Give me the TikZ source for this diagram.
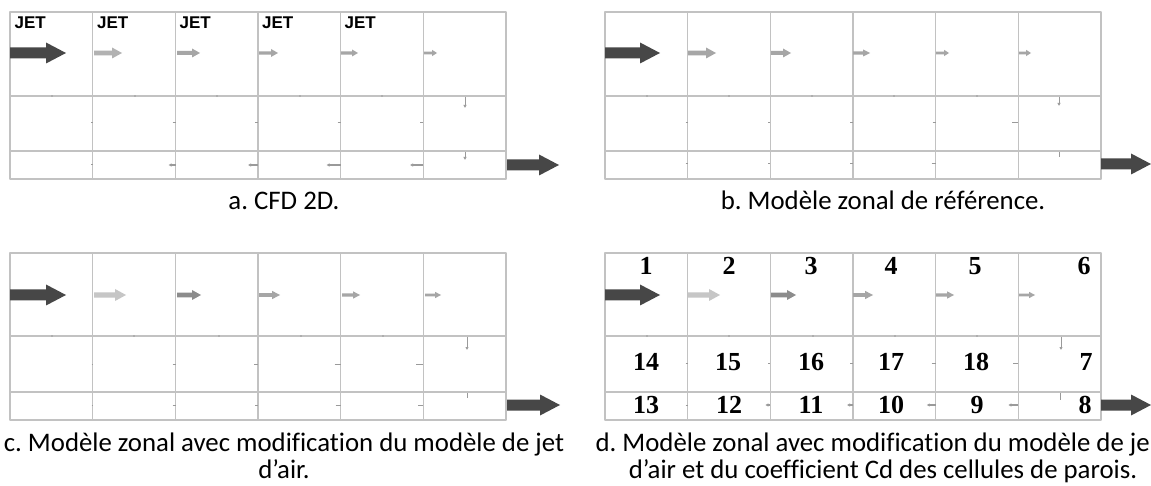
\documentclass[tikz,border=0pt]{standalone}
\usepackage{fontspec}
\setmainfont{Carlito}[Ligatures = NoCommon]
\newfontfamily\jetfont{Liberation Sans}
\newfontfamily\cellfont{Liberation Serif}
\usetikzlibrary{arrows.meta}
\frenchspacing

\definecolor{gridgray}{HTML}{C2C2C2}
\definecolor{tickgray}{HTML}{9A9A9A}
\definecolor{jetdark}{HTML}{474747}
\definecolor{flowpale}{HTML}{C6C6C6}
\definecolor{flowlight}{HTML}{B2B2B2}
\definecolor{flowmid}{HTML}{A6A6A6}
\definecolor{flowdark}{HTML}{8C8C8C}

% block arrow: colour, x start, x end, y, body half, head half, head length
\newcommand{\blockarrow}[7]{%
  \fill[#1] ({#2}, {#4 - #5}) -- ({#3 - #7}, {#4 - #5}) -- ({#3 - #7}, {#4 - #6})
    -- ({#3}, {#4}) -- ({#3 - #7}, {#4 + #6}) -- ({#3 - #7}, {#4 + #5})
    -- ({#2}, {#4 + #5}) -- cycle;}

% grid of 6 x 3 cells: x left, y top, y row line, y row line, y bottom
\newcommand{\cellgrid}[5]{%
  \draw[gridline] (#1, #2) rectangle ({#1 + 496}, #5);
  \draw[gridline] (#1, #3) -- ({#1 + 496}, #3);
  \draw[gridline] (#1, #4) -- ({#1 + 496}, #4);
  \foreach \k in {1, ..., 5}
    \draw[gridline] ({#1 + \k*82.67}, #2) -- ({#1 + \k*82.67}, #5);}

\begin{document}
\begin{tikzpicture}[x = 1pt, y = -1pt, line join = round,
  gridline/.style = {draw = gridgray, line width = 1.6pt},
  tickmark/.style = {draw = tickgray, line width = 1pt},
  downflow/.style = {draw = tickgray, line width = 1pt,
    -{Latex[length = 3pt, width = 3.5pt]}},
  backflow/.style = {draw = tickgray, line width = 1.2pt,
    -{Latex[length = 3pt, width = 3.5pt]}},
  caption/.style = {font = \fontsize{26.8}{26.8}\selectfont, anchor = base,
    inner sep = 0pt},
  jetlabel/.style = {font = \jetfont\bfseries\fontsize{17}{17}\selectfont,
    anchor = base west, inner sep = 0pt},
  cellnum/.style = {font = \cellfont\bfseries\fontsize{26}{26}\selectfont,
    anchor = base, inner sep = 0pt}]
  \useasboundingbox[fill = white] (0, 0) rectangle (1151, 486);

  % a. CFD 2D
  \cellgrid{10}{12}{96}{151}{179}
  \foreach \x [count = \i] in {14.5, 97, 179.5, 262, 344.5}
    \node[jetlabel] (jet\i) at (\x, 29) {JET};
  \blockarrow{jetdark}{10}{66}{53}{5.5}{10.5}{20}
  \blockarrow{flowlight}{94}{122}{53}{2.4}{5.5}{10}
  \blockarrow{flowmid}{177}{200}{53}{2}{4.5}{8}
  \blockarrow{flowmid}{259}{278}{53}{1.7}{4}{7}
  \blockarrow{flowmid}{341}{358}{53}{1.6}{3.5}{6}
  \blockarrow{flowmid}{424}{437}{53}{1.4}{3.2}{5}
  \foreach \x in {52, 135, 217, 300, 382}
    \fill[tickgray] (\x, 96) circle (0.8);
  \foreach \x/\l in {93/2, 175.5/3, 258/3, 340.5/3, 423/3}
    \draw[tickmark] ({\x - \l}, 123) -- (\x, 123);
  \draw[tickmark] (91, 165) -- (93, 165);
  \foreach \x/\l in {175.5/7, 258/10, 340.5/14, 423/13}
    \draw[backflow] (\x, 165) -- ({\x - \l}, 165);
  \draw[downflow] (465, 97) -- (465, 108);
  \draw[downflow] (465, 152) -- (465, 160);
  \blockarrow{jetdark}{507}{559}{165}{5.5}{10.5}{20}
  \node[caption] (capa) at (284, 210) {a. CFD 2D.};

  % b. reference zonal model
  \cellgrid{605}{12}{96}{151}{179}
  \blockarrow{jetdark}{605}{660}{53}{5.5}{10.5}{20}
  \blockarrow{flowmid}{688}{716}{53}{2.4}{5.5}{10}
  \blockarrow{flowmid}{771}{791}{53}{2}{4.5}{8}
  \blockarrow{flowmid}{853}{870}{53}{1.6}{3.5}{7}
  \blockarrow{flowmid}{936}{949}{53}{1.4}{3.2}{5}
  \blockarrow{flowmid}{1019}{1031}{53}{1.4}{3.2}{5}
  \foreach \x in {647, 729, 812, 894, 977}
    \fill[tickgray] (\x, 96) circle (0.8);
  \foreach \x/\l in {687.7/2, 770.3/2, 853/3, 935.7/3, 1018.3/6}
    \draw[tickmark] ({\x - \l}, 123) -- (\x, 123);
  \foreach \x/\l in {687.7/2, 770.3/2, 853/3, 935.7/4}
    \draw[tickmark] ({\x - \l}, 164) -- (\x, 164);
  \draw[downflow] (1059, 97) -- (1059, 106);
  \draw[tickmark] (1059, 152) -- (1059, 157);
  \blockarrow{jetdark}{1101}{1151}{164}{5.5}{10.5}{20}
  \node[caption] (capb) at (883, 210) {b. Modèle zonal de référence.};

  % c. modified jet model
  \cellgrid{10}{253}{336}{392}{420}
  \blockarrow{jetdark}{10}{66}{295}{5.5}{10.5}{20}
  \blockarrow{flowpale}{94}{126}{295}{2.6}{6}{11}
  \blockarrow{flowdark}{177}{201}{295}{2.3}{5}{9}
  \blockarrow{flowmid}{259}{280}{295}{1.9}{4.2}{8}
  \blockarrow{flowmid}{342}{360}{295}{1.6}{3.7}{7}
  \blockarrow{flowmid}{425}{441}{295}{1.4}{3.2}{6}
  \foreach \x in {52, 134, 219, 301, 383}
    \fill[tickgray] (\x, 336) circle (0.8);
  \foreach \x/\l in {93/1.5, 175.5/3, 258/4, 340.5/6, 423/7}
    \draw[tickmark] ({\x - \l}, 364) -- (\x, 364);
  \foreach \x/\l in {93/1.5, 175.5/3, 258/3, 340.5/5, 423/5}
    \draw[tickmark] ({\x - \l}, 405) -- (\x, 405);
  \draw[downflow] (467, 337) -- (467, 350);
  \draw[tickmark] (467, 393) -- (467, 398);
  \blockarrow{jetdark}{507}{560}{405}{5.5}{10.5}{20}
  \node[caption] (capc1) at (284, 451)
    {c. Modèle zonal avec modification du modèle de jet};
  \node[caption] (capc2) at (284, 478) {d’air.};

  % d. modified jet model and wall Cd
  \cellgrid{605}{253}{336}{392}{420}
  \blockarrow{jetdark}{605}{660}{295}{5.5}{10.5}{20}
  \blockarrow{flowpale}{688}{720}{295}{2.6}{6}{11}
  \blockarrow{flowdark}{771}{796}{295}{2.3}{5}{9}
  \blockarrow{flowmid}{853}{873}{295}{1.9}{4.2}{8}
  \blockarrow{flowmid}{936}{954}{295}{1.6}{3.7}{7}
  \blockarrow{flowmid}{1019}{1035}{295}{1.4}{3.2}{6}
  \foreach \x in {647, 729, 813, 895, 977}
    \fill[tickgray] (\x, 336) circle (0.8);
  \foreach \x/\l in {687.7/2, 770.3/2, 853/3, 935.7/4, 1018.3/5}
    \draw[tickmark] ({\x - \l}, 363) -- (\x, 363);
  \draw[tickmark] (685.7, 405) -- (687.7, 405);
  \foreach \x/\l in {770.3/5, 853/6, 935.7/9, 1018.3/10}
    \draw[backflow] (\x, 405) -- ({\x - \l}, 405);
  \draw[downflow] (1061, 337) -- (1061, 350);
  \draw[tickmark] (1060, 393) -- (1060, 400);
  \blockarrow{jetdark}{1101}{1151}{405}{5.5}{10.5}{20}
  \foreach \x/\n in {646/1, 729/2, 811/3, 891/4, 975/5, 1084/6}
    \node[cellnum] (top\n) at (\x, 275) {\n};
  \foreach \x/\n in {646/14, 728/15, 811/16, 891/17, 976/18, 1086/7}
    \node[cellnum] (mid\n) at (\x, 370) {\n};
  \foreach \x/\n in {646/13, 729/12, 811/11, 891/10, 977/9, 1085/8}
    \node[cellnum] (low\n) at (\x, 413) {\n};
  \node[caption, anchor = base east] (capd1) at (1150, 451)
    {d. Modèle zonal avec modification du modèle de je};
  \node[caption] (capd2) at (883, 478)
    {d’air et du coefficient Cd des cellules de parois.};
\end{tikzpicture}
\end{document}
